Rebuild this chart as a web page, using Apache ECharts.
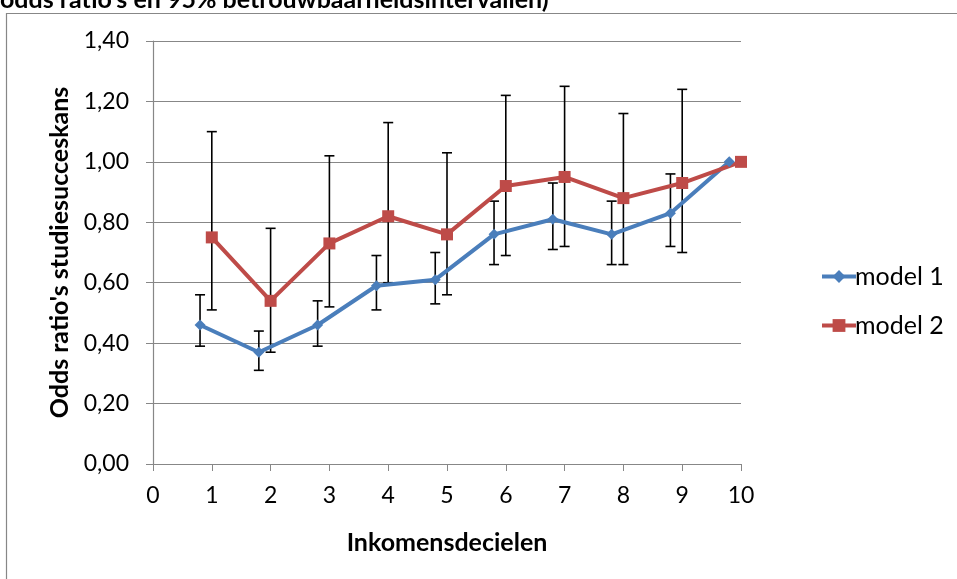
<!DOCTYPE html>
<html>
<head>
<meta charset="utf-8">
<script src="https://cdn.jsdelivr.net/npm/echarts@6/dist/echarts.min.js"></script>
<style>
  html, body { margin: 0; padding: 0; background: #fff; }
  #chart { width: 957px; height: 579px; }
</style>
</head>
<body>
<div id="chart"></div>
<script>
// deciles
const deciles = [1, 2, 3, 4, 5, 6, 7, 8, 9, 10];
// model 1 is drawn slightly left of each decile
const model1X = [0.8, 1.8, 2.8, 3.8, 4.8, 5.8, 6.8, 7.8, 8.8, 9.8];
const model1 = [0.46, 0.37, 0.46, 0.59, 0.61, 0.76, 0.81, 0.76, 0.83, 1.00];
const model1Low = [0.39, 0.31, 0.39, 0.51, 0.53, 0.66, 0.71, 0.66, 0.72, null];
const model1High = [0.56, 0.44, 0.54, 0.69, 0.70, 0.87, 0.93, 0.87, 0.96, null];
const model2 = [0.75, 0.54, 0.73, 0.82, 0.76, 0.92, 0.95, 0.88, 0.93, 1.00];
const model2Low = [0.51, 0.37, 0.52, 0.60, 0.56, 0.69, 0.72, 0.66, 0.70, null];
const model2High = [1.10, 0.78, 1.02, 1.13, 1.03, 1.22, 1.25, 1.16, 1.24, null];
const yTicks = [0, 0.2, 0.4, 0.6, 0.8, 1.0, 1.2, 1.4];

const font = 'Lato, "Noto Sans", sans-serif';
const gray = '#878787';

function errData(xs, lo, hi) {
  const out = [];
  xs.forEach((x, i) => {
    if (lo[i] != null && hi[i] != null) out.push([x, lo[i], hi[i]]);
  });
  return out;
}

function renderErr(params, api) {
  const x = api.value(0);
  const lo = api.coord([x, api.value(1)]);
  const hi = api.coord([x, api.value(2)]);
  const cap = 5;
  const style = { stroke: '#000', lineWidth: 1.6 };
  return {
    type: 'group',
    children: [
      { type: 'line', shape: { x1: lo[0], y1: lo[1], x2: hi[0], y2: hi[1] }, style },
      { type: 'line', shape: { x1: lo[0] - cap, y1: lo[1], x2: lo[0] + cap, y2: lo[1] }, style },
      { type: 'line', shape: { x1: hi[0] - cap, y1: hi[1], x2: hi[0] + cap, y2: hi[1] }, style }
    ]
  };
}

const chart = echarts.init(document.getElementById('chart'));
chart.setOption({
  animation: false,
  textStyle: { fontFamily: font },
  graphic: [
    {
      type: 'rect', left: 4, top: 11, silent: true,
      shape: { width: 1000, height: 620 },
      style: { fill: 'none', stroke: gray, lineWidth: 1.2 }
    },
    {
      type: 'text', left: 0, top: -13, silent: true,
      style: {
        text: "odds ratio's en 95% betrouwbaarheidsintervallen)",
        font: 'bold 25px ' + font, fill: '#000'
      }
    }
  ],
  grid: { left: 153, right: 216, top: 41, bottom: 115 },
  legend: {
    data: ['model 1', 'model 2'],
    orient: 'vertical',
    left: 815, top: 259,
    itemWidth: 34, itemHeight: 16, itemGap: 24,
    lineStyle: { width: 4 },
    textStyle: { fontSize: 25, fontFamily: font, color: '#000', padding: [0, 0, 0, -6] }
  },
  xAxis: {
    type: 'value', min: 0, max: 10, interval: 1,
    name: 'Inkomensdecielen', nameLocation: 'middle', nameGap: 66,
    nameTextStyle: { fontSize: 25, fontWeight: 'bold', color: '#000', fontFamily: font },
    axisLine: { lineStyle: { color: gray, width: 1.2 } },
    axisTick: { show: true, length: 7, lineStyle: { color: gray } },
    axisLabel: { fontSize: 23, color: '#000', margin: 20, fontFamily: font },
    splitLine: { show: false }
  },
  yAxis: {
    type: 'value', min: yTicks[0], max: yTicks[yTicks.length - 1], interval: 0.2,
    name: "Odds ratio's studiesucceskans", nameLocation: 'middle', nameGap: 78,
    nameTextStyle: { fontSize: 25, fontWeight: 'bold', color: '#000', fontFamily: font },
    axisLine: { show: true, lineStyle: { color: gray, width: 1.2 } },
    axisTick: { show: true, length: 7, lineStyle: { color: gray } },
    axisLabel: {
      fontSize: 23, color: '#000', margin: 24, fontFamily: font,
      formatter: v => v.toFixed(2).replace('.', ',')
    },
    splitLine: { show: true, lineStyle: { color: gray, width: 1.2 } }
  },
  series: [
    {
      type: 'custom', name: 'err1', renderItem: renderErr, z: 1,
      data: errData(model1X, model1Low, model1High)
    },
    {
      type: 'custom', name: 'err2', renderItem: renderErr, z: 1,
      data: errData(deciles, model2Low, model2High)
    },
    {
      name: 'model 1', type: 'line', z: 3,
      data: model1X.map((x, i) => [x, model1[i]]),
      symbol: 'diamond', symbolSize: 11,
      lineStyle: { color: '#4A7EBB', width: 4 },
      itemStyle: { color: '#4A7EBB' }
    },
    {
      name: 'model 2', type: 'line', z: 3,
      data: deciles.map((x, i) => [x, model2[i]]),
      symbol: 'rect', symbolSize: 12,
      lineStyle: { color: '#BE4B48', width: 4 },
      itemStyle: { color: '#BE4B48' }
    }
  ]
});
</script>
</body>
</html>
